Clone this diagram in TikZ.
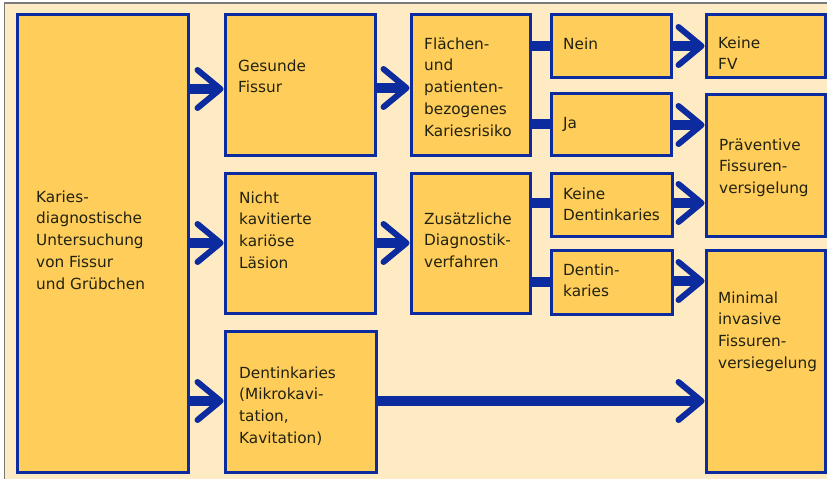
\documentclass[tikz,border=0pt]{standalone}
\usepackage{fontspec}
\setmainfont{DejaVu Sans}
\usetikzlibrary{arrows.meta}
\definecolor{bgc}{HTML}{FFEBC3}
\definecolor{boxc}{HTML}{FFCD5A}
\definecolor{bluec}{HTML}{0C2B9E}
\definecolor{txtc}{HTML}{222211}
\definecolor{framec}{HTML}{7A7A7A}
\tikzset{
  box/.style={draw=bluec, line width=3pt, fill=boxc, inner sep=0pt},
  txt/.style={anchor=north west, inner sep=0pt, align=left, text=txtc,
              font=\fontsize{15.3}{21.7}\selectfont},
  arr/.style={draw=bluec, line width=9.5pt,
              -{Straight Barb[length=23pt,width=38pt,line width=6pt,round]}},
  link/.style={draw=bluec, line width=10pt},
}
\begin{document}
\begin{tikzpicture}[x=1pt,y=-1pt]
\useasboundingbox (0,0) rectangle (827,479);
\fill[white] (0,0) rectangle (827,479);
\fill[bgc] (4.5,3) rectangle (827,479);
\draw[framec, line width=1.2pt] (4.5,479) -- (4.5,3) -- (827,3);

% boxes
\node[box, minimum width=171pt, minimum height=458pt] (big)   at (102.5,243) {};
\node[box, minimum width=150pt, minimum height=141pt] (ges)   at (300,84.5) {};
\node[box, minimum width=119pt, minimum height=141pt] (fla)   at (470.5,84.5) {};
\node[box, minimum width=120pt, minimum height=63pt]  (nein)  at (611,45.5) {};
\node[box, minimum width=120pt, minimum height=62pt]  (ja)    at (611,124) {};
\node[box, minimum width=119pt, minimum height=63pt]  (kfv)   at (765.5,45.5) {};
\node[box, minimum width=119pt, minimum height=142pt] (prae)  at (765.5,165) {};
\node[box, minimum width=150pt, minimum height=140pt] (nicht) at (300,243) {};
\node[box, minimum width=119pt, minimum height=140pt] (zus)   at (470.5,243) {};
\node[box, minimum width=121pt, minimum height=63pt]  (kd)    at (611.5,204.5) {};
\node[box, minimum width=121pt, minimum height=64pt]  (dk)    at (611.5,282) {};
\node[box, minimum width=119pt, minimum height=222pt] (min)   at (765.5,361) {};
\node[box, minimum width=151pt, minimum height=141pt] (mik)   at (300.5,401.5) {};

% connectors
\draw[arr]  (big.east |- 0,89)   -- (ges.west |- 0,89);
\draw[arr]  (ges.east |- 0,88)   -- (fla.west |- 0,88);
\draw[link] (fla.east |- 0,46)   -- (nein.west |- 0,46);
\draw[link] (fla.east |- 0,124)  -- (ja.west |- 0,124);
\draw[arr]  (nein.east |- 0,46)  -- (kfv.west |- 0,46);
\draw[arr]  (ja.east |- 0,125)   -- (prae.west |- 0,125);
\draw[arr]  (big.east |- 0,243)  -- (nicht.west |- 0,243);
\draw[arr]  (nicht.east |- 0,243) -- (zus.west |- 0,243);
\draw[link] (zus.east |- 0,203)  -- (kd.west |- 0,203);
\draw[link] (zus.east |- 0,282)  -- (dk.west |- 0,282);
\draw[arr]  (kd.east |- 0,203)   -- (prae.west |- 0,203);
\draw[arr]  (dk.east |- 0,281)   -- (min.west |- 0,281);
\draw[arr]  (big.east |- 0,401)  -- (mik.west |- 0,401);
\draw[arr]  (mik.east |- 0,401)  -- (min.west |- 0,401);

% texts
\node[txt] (tbig)   at (36,202-15.19)  {\strut Karies-\\diagnostische\\Untersuchung\\von Fissur\\und Grübchen};
\node[txt] (tges)   at (238,71-15.19)  {\strut Gesunde\\Fissur};
\node[txt] (tfla)   at (424,49-15.19)  {\strut Flächen-\\und\\patienten-\\bezogenes\\Kariesrisiko};
\node[txt] (tnein)  at (563,49-15.19)  {\strut Nein};
\node[txt] (tja)    at (563,128-15.19) {\strut Ja};
\node[txt] (tkfv)   at (718,48-15.19)  {\strut Keine\\FV};
\node[txt] (tprae)  at (719,150-15.19) {\strut Präventive\\Fissuren-\\versigelung};
\node[txt] (tnicht) at (239,203-15.19) {\strut Nicht\\kavitierte\\kariöse\\Läsion};
\node[txt] (tzus)   at (424,224-15.19) {\strut Zusätzliche\\Diagnostik-\\verfahren};
\node[txt] (tkd)    at (563,199-15.19) {\strut Keine\\Dentinkaries};
\node[txt] (tdk)    at (563,275-15.19) {\strut Dentin-\\karies};
\node[txt] (tmin)   at (718,303-15.19) {\strut Minimal\\invasive\\Fissuren-\\versiegelung};
\node[txt] (tmik)   at (239,378-15.19) {\strut Dentinkaries\\(Mikrokavi-\\tation,\\Kavitation)};
\end{tikzpicture}
\end{document}
